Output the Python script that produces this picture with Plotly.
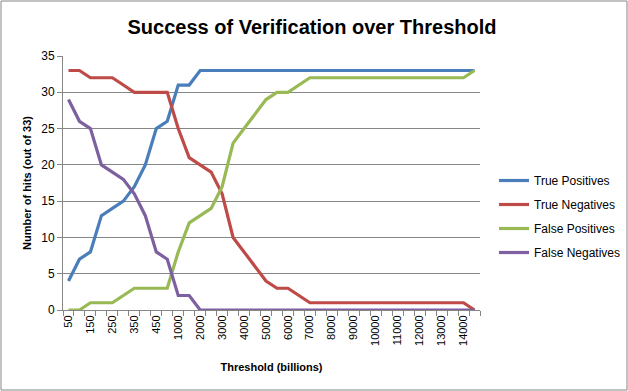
import plotly.graph_objects as go

categories = ["50", "100", "150", "200", "250", "300", "350", "400", "450", "500",
              "1000", "1500", "2000", "2500", "3000", "3500", "4000", "4500", "5000", "5500",
              "6000", "6500", "7000", "7500", "8000", "8500", "9000", "9500", "10000", "10500",
              "11000", "11500", "12000", "12500", "13000", "13500", "14000", "14500"]

true_positives = [4, 7, 8, 13, 14, 15, 17, 20, 25, 26, 31, 31, 33, 33, 33, 33, 33, 33, 33, 33,
                  33, 33, 33, 33, 33, 33, 33, 33, 33, 33, 33, 33, 33, 33, 33, 33, 33, 33]
true_negatives = [33, 33, 32, 32, 32, 31, 30, 30, 30, 30, 25, 21, 20, 19, 16, 10, 8, 6, 4, 3,
                  3, 2, 1, 1, 1, 1, 1, 1, 1, 1, 1, 1, 1, 1, 1, 1, 1, 0]
false_positives = [0, 0, 1, 1, 1, 2, 3, 3, 3, 3, 8, 12, 13, 14, 17, 23, 25, 27, 29, 30,
                   30, 31, 32, 32, 32, 32, 32, 32, 32, 32, 32, 32, 32, 32, 32, 32, 32, 33]
false_negatives = [29, 26, 25, 20, 19, 18, 16, 13, 8, 7, 2, 2, 0, 0, 0, 0, 0, 0, 0, 0,
                   0, 0, 0, 0, 0, 0, 0, 0, 0, 0, 0, 0, 0, 0, 0, 0, 0, 0]

tick_labels = [c if i % 2 == 0 else "" for i, c in enumerate(categories)]

series = [
    ("True Positives", true_positives, "#4A7EBB"),
    ("True Negatives", true_negatives, "#BE4B48"),
    ("False Positives", false_positives, "#98B954"),
    ("False Negatives", false_negatives, "#7D60A0"),
]

FONT = "Liberation Sans, Arial, sans-serif"

fig = go.Figure()
for name, vals, col in series:
    fig.add_trace(go.Scatter(x=categories, y=vals, mode="lines", name=name,
                             legendgroup=name,
                             line=dict(color=col, width=3.2)))

W, H = 628, 391
ml, mr, mt, mb = 63, 148, 56, 81
pw, ph = W - ml - mr, H - mt - mb

fig.update_layout(
    width=W, height=H,
    margin=dict(l=ml, r=mr, t=mt, b=mb, autoexpand=False),
    paper_bgcolor="white", plot_bgcolor="white",
    font=dict(family=FONT, color="#000000"),
    title=dict(text="<b>Success of Verification over Threshold</b>",
               x=312 / W, xanchor="center", y=1 - 27 / H, yanchor="middle",
               font=dict(size=20, family=FONT)),
    showlegend=True,
    legend=dict(x=(494 - ml) / pw, xanchor="left", y=(H - mb - 166) / ph, yanchor="top",
                font=dict(size=12, family=FONT), tracegroupgap=5,
                bgcolor="rgba(0,0,0,0)", itemwidth=30),
    xaxis=dict(type="category", tickmode="array", tickvals=categories, ticktext=tick_labels,
               tickson="boundaries", ticks="outside", ticklen=5, tickcolor="#868686",
               tickangle=-90, tickfont=dict(size=11), automargin=False,
               showline=True, linecolor="#868686", linewidth=1,
               showgrid=False, range=[-0.5, len(categories) - 0.5],
               title=dict(text="<b>Threshold (billions)</b>", font=dict(size=11), standoff=18)),
    yaxis=dict(range=[0, 35], dtick=5, tick0=0, ticks="outside", ticklen=5, tickcolor="#868686",
               showline=True, linecolor="#868686", linewidth=1, automargin=False,
               showgrid=True, gridcolor="#868686", gridwidth=1, zeroline=False,
               tickfont=dict(size=12),
               title=dict(text="<b>Number of hits (out of 33)</b>", font=dict(size=11), standoff=7)),
    shapes=[dict(type="rect", xref="paper", yref="paper",
                 x0=-(ml - 1) / pw, x1=1 + (mr - 1) / pw,
                 y0=-(mb - 1) / ph, y1=1 + (mt - 1) / ph,
                 line=dict(color="#868686", width=1), fillcolor="rgba(0,0,0,0)", layer="below")],
)

fig.write_html("out.html", config={"displayModeBar": False},
               post_script="document.body.style.margin='0';document.body.style.overflow='hidden';")
